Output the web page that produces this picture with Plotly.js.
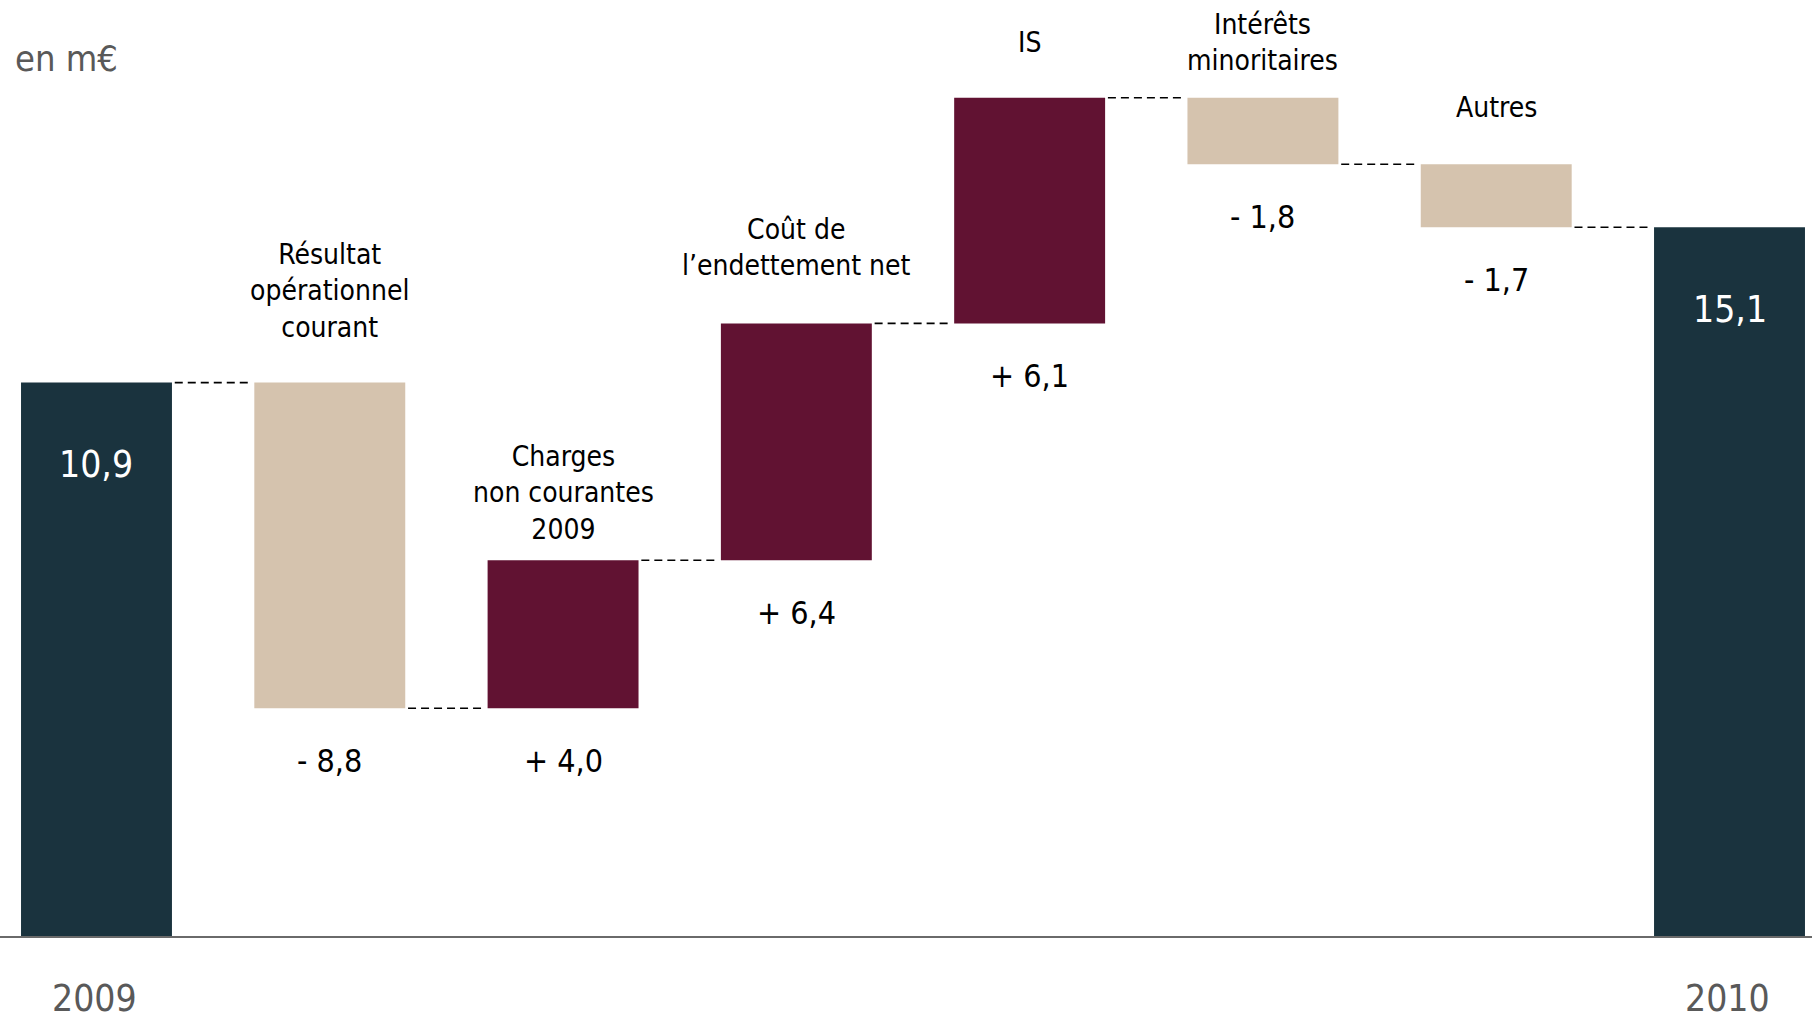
<!DOCTYPE html>
<html>
<head>
<meta charset="utf-8">
<script src="https://cdn.plot.ly/plotly-3.0.1.min.js"></script>
<style>
  html, body { margin: 0; padding: 0; background: #ffffff; }
  #chart { width: 1812px; height: 1019px; }
</style>
</head>
<body>
<div id="chart"></div>
<script>
// Passage du résultat net 2009 au résultat net 2010, en m€
const steps = ['2009', 'Résultat<br>opérationnel<br>courant', 'Charges<br>non courantes<br>2009',
               'Coût de<br>l’endettement net', 'IS', 'Intérêts<br>minoritaires', 'Autres', '2010'];
const kinds = ['total', 'delta', 'delta', 'delta', 'delta', 'delta', 'delta', 'total'];
const amounts = [10.9, -8.8, 4.0, 6.4, 6.1, -1.8, -1.7, 15.1];
const unitLabel = 'en m€';

// ---- presentation ----
const FONT = '"DejaVu Sans Condensed", "DejaVu Sans", Tahoma, sans-serif';
const COL_TOTAL = '#1a333e';
const COL_UP = '#611232';
const COL_DOWN = '#d5c3ae';
const GRAY = '#595959';
const yRange = [-4.055, 21.24];
const xRange = [-0.4136, 7.3536];
const BARGAP = 0.353;
// distance (px) between a bar's top and the bottom of its caption
const nameLift = [0, 37, 12, 39, 37, 19, 38, 0];

const fmt = v => v.toFixed(1).replace('.', ',');
const signed = v => (v < 0 ? '- ' : '+ ') + fmt(Math.abs(v));

// running levels of the bridge
const bottoms = [], tops = [], colors = [];
let level = 0;
amounts.forEach((v, i) => {
  if (kinds[i] === 'total') {
    level = v;
    bottoms.push(yRange[0]);
    tops.push(v);
    colors.push(COL_TOTAL);
  } else {
    const next = level + v;
    bottoms.push(Math.min(level, next));
    tops.push(Math.max(level, next));
    colors.push(v >= 0 ? COL_UP : COL_DOWN);
    level = next;
  }
});
const idx = steps.map((_, i) => i);

const bars = {
  type: 'bar',
  x: idx,
  base: bottoms,
  y: tops.map((t, i) => t - bottoms[i]),
  width: 1 - BARGAP,
  marker: { color: colors, line: { width: 0 } },
  hoverinfo: 'skip',
  showlegend: false
};

// dashed links between consecutive bars
const halfW = (1 - BARGAP) / 2;
const shapes = [];
let run = 0;
amounts.forEach((v, i) => {
  run = kinds[i] === 'total' ? v : run + v;
  if (i < amounts.length - 1) {
    shapes.push({
      type: 'line', xref: 'x', yref: 'y',
      x0: i + halfW + 0.012, x1: i + 1 - halfW - 0.012,
      y0: run, y1: run,
      line: { color: '#000000', width: 1.6, dash: '8px,5px' }
    });
  }
});

const annotations = [];
idx.forEach(i => {
  if (kinds[i] === 'total') {
    annotations.push({
      x: i, y: tops[i], xref: 'x', yref: 'y', text: fmt(amounts[i]),
      showarrow: false, yanchor: 'middle', yshift: -82,
      font: { family: FONT, size: 37, color: '#ffffff' }
    });
    annotations.push({
      x: i, y: yRange[0], xref: 'x', yref: 'y', text: steps[i],
      showarrow: false, yanchor: 'middle', xshift: -2, yshift: -62, borderpad: 0,
      font: { family: FONT, size: 37, color: GRAY }
    });
  } else {
    annotations.push({
      x: i, y: tops[i], xref: 'x', yref: 'y', text: steps[i],
      showarrow: false, yanchor: 'bottom', yshift: nameLift[i],
      font: { family: FONT, size: 28, color: '#000000' }
    });
    annotations.push({
      x: i, y: bottoms[i], xref: 'x', yref: 'y', text: signed(amounts[i]),
      showarrow: false, yanchor: 'middle', yshift: -53,
      font: { family: FONT, size: 32, color: '#000000' }
    });
  }
});
annotations.push({
  x: 0, y: 1, xref: 'paper', yref: 'paper', text: unitLabel,
  showarrow: false, xanchor: 'left', yanchor: 'middle', xshift: 13, yshift: -58,
  font: { family: FONT, size: 36, color: GRAY }
});

const layout = {
  width: 1812, height: 1019,
  margin: { l: 0, r: 0, t: 0, b: 83, pad: 0 },
  paper_bgcolor: '#ffffff', plot_bgcolor: '#ffffff',
  showlegend: false,
  xaxis: {
    range: xRange, showgrid: false, zeroline: false, showticklabels: false,
    ticks: '', showline: true, linecolor: '#6a6a6a', linewidth: 2, fixedrange: true
  },
  yaxis: {
    range: yRange, showgrid: false, zeroline: false, showticklabels: false,
    ticks: '', showline: false, fixedrange: true
  },
  shapes: shapes,
  annotations: annotations,
  font: { family: FONT }
};

Plotly.newPlot('chart', [bars], layout, { displayModeBar: false, staticPlot: true });
</script>
</body>
</html>
